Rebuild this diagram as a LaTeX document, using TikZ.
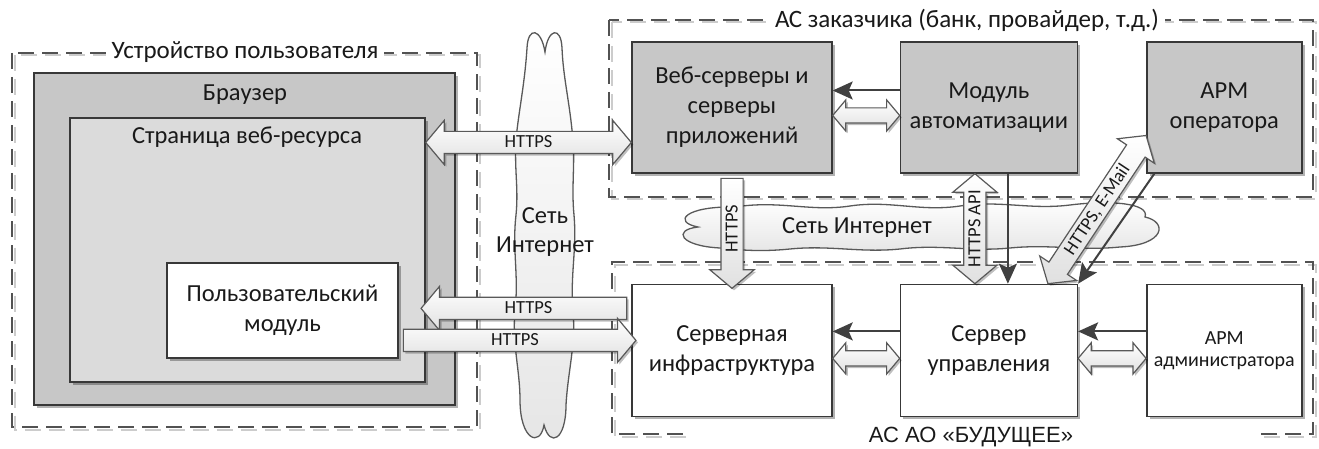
\documentclass[tikz,border=0pt]{standalone}
\usepackage{fontspec}
\setmainfont{Carlito}
\newfontfamily\arialfont{Liberation Sans}
\usetikzlibrary{positioning, calc, shapes.arrows, shadows}
\usetikzlibrary{arrows, arrows.meta}
\tikzset{>={Stealth[length=20pt, width=18pt, inset=4pt]}}
\colorlet{mygray}{black!22}
\colorlet{mylight}{black!14}
\colorlet{myline}{black!78}
\colorlet{myzone}{black!68}
\tikzset{
  box/.style={draw=myline, line width=1.4pt, align=center, text=black!90, inner sep=0,
    font=\fontsize{24.5}{30}\selectfont,
    drop shadow={shadow xshift=3pt, shadow yshift=-3pt, opacity=.3, fill=black}},
  zone/.style={draw=myzone, line width=2pt, dash pattern=on 16pt off 8pt},
  zoneshade/.style={draw=black!20, line width=2pt, dash pattern=on 16pt off 8pt, shift={(2.5pt,-2.5pt)}},
  zonelabel/.style={fill=white, inner xsep=6pt, inner ysep=1pt, text=black!90, font=\fontsize{25}{29}\selectfont},
  ctrl/.style={->, draw=black!75, line width=2pt},
  cloudy/.style={draw=black!65, line width=1.3pt, top color=white, bottom color=black!10},
  blk/.style={draw=black!65, line width=1.2pt, top color=white, bottom color=black!12,
    inner sep=0, text height=16pt, text depth=5pt, text=black!90, font=\fontsize{18.5}{18.5}\selectfont,
    drop shadow={shadow xshift=2pt, shadow yshift=-2pt, opacity=.25, fill=black}},
  hsingle/.style={blk, single arrow, single arrow tip angle=100,
    single arrow head extend=11pt, single arrow head indent=0pt},
  hdouble/.style={blk, double arrow, double arrow tip angle=100,
    double arrow head extend=11pt, double arrow head indent=0pt},
  pair/.style={blk, double arrow, text height=8pt, text depth=6pt, double arrow tip angle=100,
    double arrow head extend=8pt, double arrow head indent=0pt}
}
\begin{document}
\begin{tikzpicture}[x=1pt, y={(0pt,-1pt)}]
  \useasboundingbox (0,0) rectangle (1319,449);

  % dashed zones
  \draw[zoneshade] (12,53) rectangle (477,427);
  \draw[zone] (12,53) rectangle (477,427);
  \draw[zoneshade] (609,20) rectangle (1313,197);
  \draw[zone] (609,20) rectangle (1313,197);
  \draw[zoneshade] (683,434) -- (612,434) -- (612,262) -- (1313,262) -- (1313,434) -- (1259,434);
  \draw[zone] (683,434) -- (612,434) -- (612,262) -- (1313,262) -- (1313,434) -- (1259,434);
  \node[zonelabel] (userzone) at (245,52) {Устройство пользователя};
  \node[zonelabel] (custzone) at (967,20) {АС заказчика (банк, провайдер, т.д.)};
  \node[zonelabel, fill=none, font=\arialfont\fontsize{22}{26}\selectfont] (ownzone) at (971,437) {АС АО «БУДУЩЕЕ»};

  % user side
  \node[box, fill=mygray, minimum width=421pt, minimum height=332pt] (browser) at (244.5,239) {};
  \node[box, fill=mylight, minimum width=355pt, minimum height=264pt] (page) at (247.5,250) {};
  \node[box, fill=white, minimum width=231pt, minimum height=95pt] (usermod) at (282.5,310.5) {Пользовательский\\модуль};
  \node[font=\fontsize{24.5}{30}\selectfont, text=black!90] (browsertitle) at (245,95) {Браузер};
  \node[font=\fontsize{24.5}{30}\selectfont, text=black!90] (pagetitle) at (247,137) {Страница веб-ресурса};

  % customer side
  \node[box, fill=mygray, minimum width=200pt, minimum height=131pt] (web) at (732,107.5) {Веб-серверы и\\серверы\\приложений};
  \node[box, fill=mygray, minimum width=177pt, minimum height=131pt, right=67pt of web] (automod) {Модуль\\автоматизации};
  \node[box, fill=mygray, minimum width=155pt, minimum height=131pt, right=68pt of automod] (armop) {АРМ\\оператора};

  % own side
  \node[box, fill=white, minimum width=200pt, minimum height=132pt, below=110pt of web] (infra) {Серверная\\инфраструктура};
  \node[box, fill=white, minimum width=177pt, minimum height=132pt, right=67pt of infra] (mgmt) {Сервер\\управления};
  \node[box, fill=white, minimum width=155pt, minimum height=132pt, right=68pt of mgmt,
    font=\fontsize{20}{22}\selectfont] (armadm) {АРМ\\администратора};

  % networks
  \draw[cloudy] (545,52) .. controls (541,28) and (528,26) .. (527,48)
    .. controls (525,80) and (520,105) .. (517,130)
    .. controls (513,165) and (519,185) .. (516,215)
    .. controls (512,250) and (519,275) .. (515,310)
    .. controls (512,345) and (520,370) .. (520,400)
    .. controls (520,440) and (540,448) .. (544,425)
    .. controls (550,448) and (566,440) .. (566,405)
    .. controls (568,370) and (576,345) .. (573,310)
    .. controls (570,275) and (577,250) .. (574,215)
    .. controls (571,185) and (576,160) .. (572,130)
    .. controls (569,100) and (563,75) .. (562,48)
    .. controls (561,26) and (548,28) .. (545,52) -- cycle;
  \node[font=\fontsize{24.5}{29}\selectfont, align=center, text=black!90] (net1) at (545,232) {Сеть\\Интернет};
  \draw[cloudy] (735,207)
    .. controls (780,200) and (810,212) .. (850,206)
    .. controls (890,200) and (920,212) .. (960,206)
    .. controls (1000,200) and (1030,210) .. (1070,205)
    .. controls (1110,200) and (1150,203) .. (1145,217)
    .. controls (1168,222) and (1165,245) .. (1120,247)
    .. controls (1080,251) and (1050,244) .. (1010,248)
    .. controls (970,252) and (940,244) .. (900,249)
    .. controls (860,253) and (830,245) .. (790,249)
    .. controls (760,252) and (740,250) .. (720,248)
    .. controls (680,246) and (672,230) .. (698,227)
    .. controls (672,222) and (685,206) .. (735,207) -- cycle;
  \node[font=\fontsize{24.5}{29}\selectfont, text=black!90] (net2) at (857,228) {Сеть Интернет};

  % control arrows
  \draw[ctrl] ([yshift=17pt]automod.west) -- ([yshift=17pt]web.east);
  \draw[ctrl] ([xshift=19pt]automod.south) -- ([xshift=19pt]mgmt.north);
  \draw[ctrl] ([xshift=-70pt]armop.south) -- (mgmt.north east);
  \draw[ctrl] ([yshift=19pt]mgmt.west) -- ([yshift=19pt]infra.east);
  \draw[ctrl] ([yshift=19pt]armadm.west) -- ([yshift=19pt]mgmt.east);

  % data exchange
  \path let \p1=(web.east), \p2=(automod.west) in
    node[pair, minimum height=\x2-\x1] (webmod) at ($(\p1)!.5!(\p2)+(0pt,-8pt)$) {};
  \path let \p1=(infra.east), \p2=(mgmt.west) in
    node[pair, minimum height=\x2-\x1] (infmgmt) at ($(\p1)!.5!(\p2)+(0pt,-8pt)$) {};
  \path let \p1=(mgmt.east), \p2=(armadm.west) in
    node[pair, minimum height=\x2-\x1] (mgmtadm) at ($(\p1)!.5!(\p2)+(0pt,-8pt)$) {};

  \path let \p1=(page.east), \p2=([yshift=-35pt]web.west) in
    node[hdouble, minimum height=\x2-\x1] (httpstop) at ($(\x1,\y2)!.5!(\p2)$) {HTTPS};
  \path let \p1=([yshift=42pt]infra.west), \p2=(page.east) in
    node[hsingle, shape border rotate=180, minimum height=\x1-\x2] (httpsin) at ($(\p1)!.5!(\x2,\y1)$) {HTTPS};
  \path let \p1=(usermod.east), \p2=([yshift=10pt]infra.west) in
    node[hsingle, minimum height=\x2-\x1] (httpsout) at ($(\x1,\y2)!.5!(\p2)$) {HTTPS};
  \path let \p1=(web.south), \p2=(infra.north) in
    node[hsingle, rotate=90, shape border rotate=180, minimum height=\y1-\y2] (httpsdown) at ($(\p1)!.5!(\p2)$) {HTTPS};
  \path let \p1=([xshift=-14pt]automod.south), \p2=([xshift=-14pt]mgmt.north) in
    node[hdouble, rotate=90, minimum height=\y1-\y2] (api) at ($(\p1)!.5!(\p2)$) {HTTPS API};
  \path let \p1=([xshift=59pt]mgmt.north), \p2=([yshift=-28pt]armop.west),
    \n1={veclen(\x2-\x1,\y2-\y1)}, \n2={atan2(\y2-\y1,\x2-\x1)} in
    node[hdouble, rotate=\n2, minimum height=\n1] (mail) at ($(\p1)!.5!(\p2)$) {HTTPS, E-Mail};
\end{tikzpicture}
\end{document}
